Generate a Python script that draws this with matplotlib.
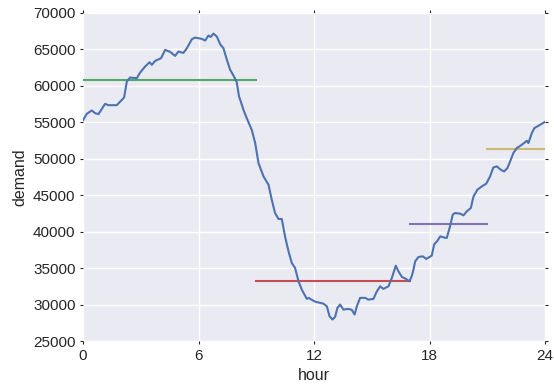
import numpy as np
import matplotlib
matplotlib.use('Agg')
import matplotlib.pyplot as plt

# demand trace (hour, demand)
hours = [0.0, 0.19, 0.45, 0.62, 0.8, 1.14, 1.32, 1.75, 2.01, 2.13, 2.27, 2.44,
         2.79, 2.96, 3.22, 3.45, 3.57, 3.74, 4.05, 4.26, 4.52, 4.78, 4.95, 5.21,
         5.39, 5.65, 5.82, 6.17, 6.34, 6.51, 6.63, 6.77, 6.95, 7.12, 7.29, 7.47,
         7.64, 7.84, 7.98, 8.1, 8.19, 8.33, 8.5, 8.76, 8.94, 9.11, 9.37, 9.63,
         9.8, 9.97, 10.15, 10.32, 10.49, 10.67, 10.84, 11.01, 11.19, 11.36, 11.62,
         11.71, 12.05, 12.31, 12.48, 12.66, 12.8, 12.95, 13.09, 13.21, 13.35,
         13.52, 13.78, 13.96, 14.1, 14.22, 14.39, 14.65, 14.82, 15.08, 15.26,
         15.43, 15.6, 15.86, 16.04, 16.12, 16.24, 16.38, 16.56, 16.78, 16.95,
         17.07, 17.16, 17.25, 17.42, 17.65, 17.82, 18.11, 18.23, 18.41, 18.55,
         18.72, 18.89, 19.06, 19.2, 19.32, 19.58, 19.76, 19.93, 20.14, 20.28,
         20.48, 20.71, 20.94, 21.14, 21.31, 21.49, 21.7, 21.87, 22.04, 22.18,
         22.35, 22.53, 22.79, 23.05, 23.13, 23.31, 23.44, 23.65, 23.83, 24.0]
demand = [55300, 56160, 56620, 56260, 56120, 57530, 57350, 57350, 58080, 58400,
          60590, 61140, 61050, 61820, 62640, 63240, 62880, 63420, 63790, 64930,
          64660, 64110, 64700, 64520, 65160, 66400, 66620, 66440, 66210, 66900,
          66710, 67170, 66750, 65710, 65160, 63560, 62190, 61270, 60500, 58540,
          57850, 56710, 55570, 53970, 52150, 49410, 47580, 46440, 44380, 42560,
          41740, 41740, 39360, 37300, 35710, 35030, 33190, 32050, 30780, 30920,
          30400, 30230, 30130, 29770, 28400, 27950, 28310, 29550, 30000, 29310,
          29410, 29270, 28630, 29770, 30920, 30920, 30680, 30780, 31820, 32510,
          32150, 32510, 33660, 34340, 35340, 34560, 33790, 33510, 33190, 33880,
          34790, 35930, 36530, 36620, 36260, 36710, 38220, 38770, 39360, 39220,
          39130, 40730, 42330, 42560, 42470, 42240, 42790, 43250, 44840, 45750,
          46210, 46580, 47580, 48810, 48950, 48490, 48260, 48720, 49630, 50780,
          51470, 51920, 52470, 52150, 53520, 54200, 54520, 54790, 55070]

# period means (start hour, end hour, level)
seg_start = [0, 9, 17, 21]
seg_end = [9, 17, 21, 24]
seg_level = [60860, 33260, 41050, 51300]
seg_colors = ['#55A868', '#C44E52', '#8172B2', '#CCB974']

plt.rcParams['font.family'] = ['Liberation Sans', 'DejaVu Sans']

fig = plt.figure(figsize=(5.54, 3.92), dpi=100)
ax = fig.add_axes([0.15, 0.13, 0.834, 0.837])
ax.set_facecolor('#EAEAF2')
for s in ax.spines.values():
    s.set_visible(False)
ax.grid(True, color='white', linewidth=1.0)
ax.set_axisbelow(True)

ax.plot(hours, demand, color='#4C72B0', linewidth=1.5, zorder=3)
for a, b, lvl, c in zip(seg_start, seg_end, seg_level, seg_colors):
    ax.plot([a, b], [lvl, lvl], color=c, linewidth=1.5, zorder=2)

ax.set_xlim(0, 24)
ax.set_ylim(25000, 70000)
ax.set_xticks([0, 6, 12, 18, 24])
ax.set_yticks(np.arange(25000, 70001, 5000))
ax.tick_params(labelsize=11, length=2, width=0.8, color='#262626',
               labelcolor='#262626', right=True, top=True, direction='out')
ax.set_xlabel('hour', fontsize=11.5, color='#262626')
ax.set_ylabel('demand', fontsize=11.5, color='#262626')

fig.savefig('out.png', dpi=100)
